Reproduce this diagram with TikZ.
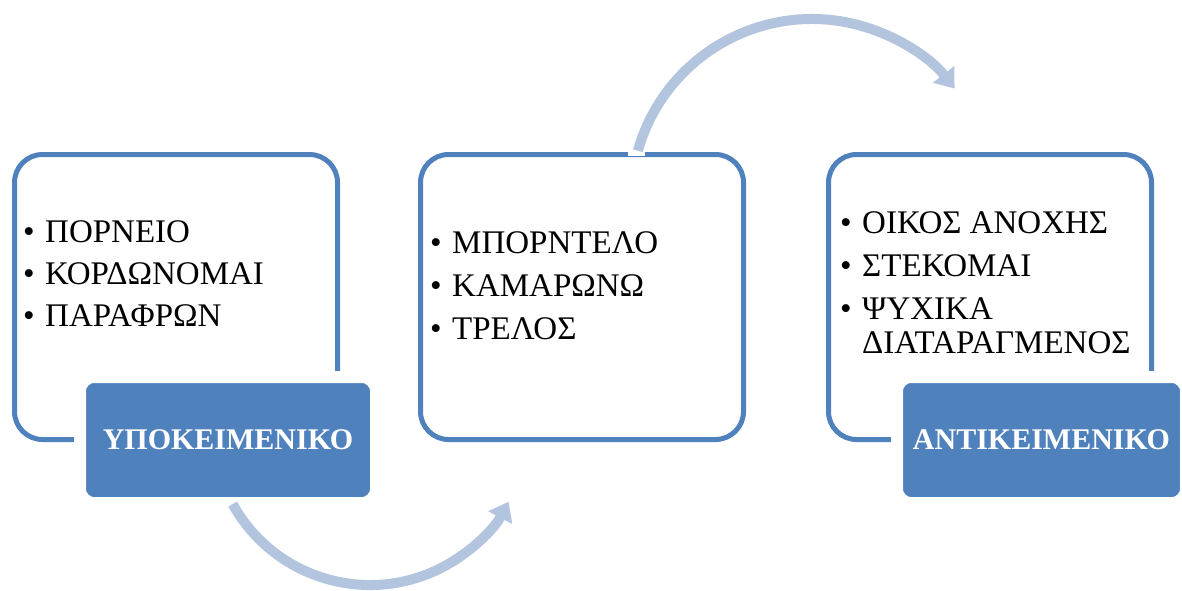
\documentclass[tikz,border=0pt]{standalone}
\usepackage{fontspec}
\setmainfont{Liberation Serif}
\definecolor{boxblue}{RGB}{79,129,189}
\definecolor{arrowblue}{RGB}{179,196,222}
\usetikzlibrary{arrows.meta}
\newcommand{\itm}[1]{\makebox[22pt][l]{\textbullet}#1}
\tikzset{
    listbox/.style={draw=boxblue, line width=5pt, rounded corners=28pt,
        minimum width=323pt, minimum height=285pt, inner sep=0pt},
    labelbox/.style={fill=boxblue, draw=white, line width=12pt,
        rounded corners=14pt, minimum height=126pt, inner sep=0pt,
        text=white, font=\fontsize{30}{30}\selectfont\bfseries},
    entry/.style={anchor=base west, inner sep=0pt,
        font=\fontsize{33}{33}\selectfont},
    flowarrow/.style={arrowblue, line width=10pt,
        -{Triangle[width=26pt, length=18pt]}},
}

\begin{document}
\begin{tikzpicture}[x=1pt, y=-1pt]
    \useasboundingbox (0, 0) rectangle (1182, 590);
    % the three boxes
    \node[listbox] (box1) at (176, 297) {};
    \node[listbox] (box2) at (582, 297) {};
    \node[listbox] (box3) at (990, 297) {};
    % labels over the lower right corners
    \node[labelbox, minimum width=296pt] (lab1) at (228, 440) {ΥΠΟΚΕΙΜΕΝΙΚΟ};
    \node[labelbox, minimum width=289pt] (lab3) at (1041.5, 440) {ΑΝΤΙΚΕΙΜΕΝΙΚΟ};
    % lists
    \foreach \word [count=\i] in {ΠΟΡΝΕΙΟ, ΚΟΡΔΩΝΟΜΑΙ, ΠΑΡΑΦΡΩΝ}
        \node[entry] (a\i) at (23, 200 + 42*\i) {\itm{\word}};
    \foreach \word [count=\i] in {ΜΠΟΡΝΤΕΛΟ, ΚΑΜΑΡΩΝΩ, ΤΡΕΛΟΣ}
        \node[entry] (b\i) at (430, 210 + 43*\i) {\itm{\word}};
    \foreach \word [count=\i] in {ΟΙΚΟΣ ΑΝΟΧΗΣ, ΣΤΕΚΟΜΑΙ, ΨΥΧΙΚΑ}
        \node[entry] (c\i) at (840, 190 + 43*\i) {\itm{\word}};
    \node[entry] (c4) at (862, 353) {ΔΙΑΤΑΡΑΓΜΕΝΟΣ};
    % curved arrows
    \coordinate (low) at (370, 428);
    \coordinate (up) at (812, 200);
    \draw[flowarrow] (low) ++(151:157) arc[start angle=151, end angle=28,
        radius=157];
    \draw[white, line width=7pt] ([xshift=46pt]box2.north) -- ([xshift=63pt]box2.north);
    \draw[flowarrow] (up) ++(195.8:181) arc[start angle=195.8, end angle=322,
        radius=181];
\end{tikzpicture}
\end{document}
